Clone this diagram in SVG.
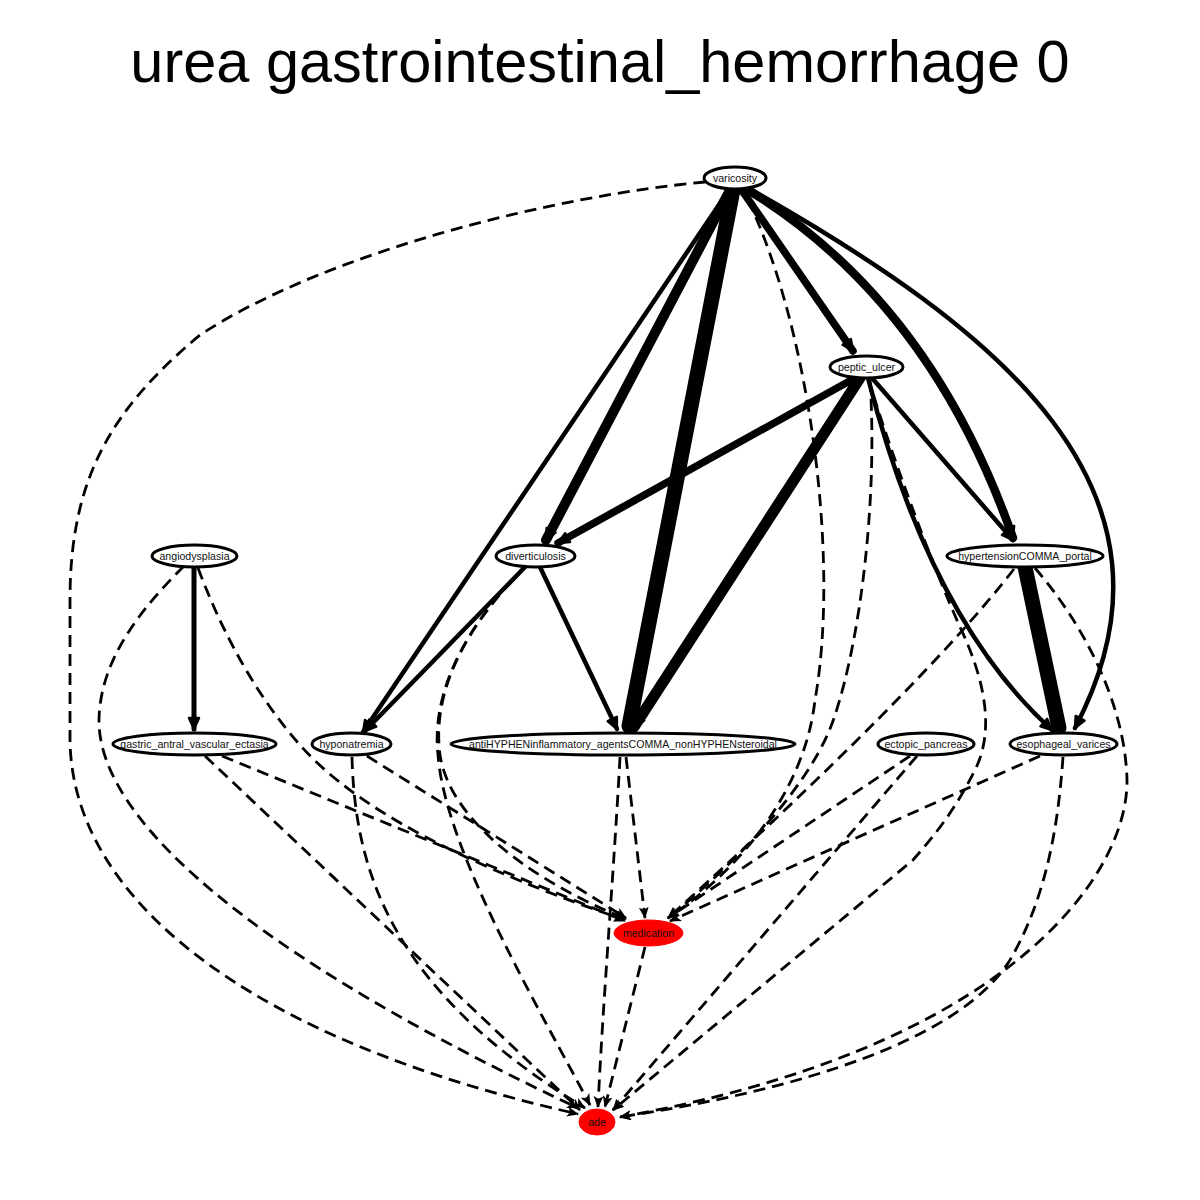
<svg xmlns="http://www.w3.org/2000/svg" width="1200" height="1200" viewBox="0 0 1200 1200">
<style>
.s{fill:none;stroke:#000;stroke-linecap:round}
.d{fill:none;stroke:#000;stroke-width:2.8;stroke-dasharray:12 7}
.n{fill:#fff;stroke:#000;stroke-width:3}
.r{fill:#f00;stroke:#f00;stroke-width:1}
text{font-family:"Liberation Sans",Arial,sans-serif;font-size:10.6px;text-anchor:middle;fill:#111}
.t{font-size:59.5px;fill:#000}
</style>
<defs>
<marker id="ms" markerUnits="userSpaceOnUse" viewBox="-2 -2 16 14" refX="11" refY="5" markerWidth="16" markerHeight="14" orient="auto"><path d="M0,0 L11,5 L0,10 z" fill="#000" stroke="#000" stroke-width="2.5" stroke-linejoin="round"/></marker>
<marker id="md" markerUnits="userSpaceOnUse" viewBox="0 0 12 10" refX="11" refY="5" markerWidth="12" markerHeight="10" orient="auto"><path d="M0,0 L12,5 L0,10 L3,5 z" fill="#000"/></marker>
</defs>
<rect width="1200" height="1200" fill="#fff"/>
<text class="t" x="600" y="82">urea gastrointestinal_hemorrhage 0</text>
<g id="edges">
<g marker-end="url(#ms)">
<path class="s" stroke-width="4.5" d="M729,190 L363,732"/>
<path class="s" stroke-width="10" d="M730,190 L546,540"/>
<path class="s" stroke-width="15" d="M733,190 L629,726"/>
<path class="s" stroke-width="7.5" d="M741,189 L853,351"/>
<path class="s" stroke-width="8.5" d="M745,188 Q930,300 1013,538"/>
<path class="s" stroke-width="4.5" d="M748,188 C1000,330 1200,490 1075,728"/>
<path class="s" stroke-width="7.5" d="M855,378 L558,543"/>
<path class="s" stroke-width="11" d="M860,378 L634,727"/>
<path class="s" stroke-width="4.5" d="M872,378 L1013,540"/>
<path class="s" stroke-width="4.5" d="M868,378 Q930,620 1052,730"/>
<path class="s" stroke-width="4.5" d="M525,567 L365,731"/>
<path class="s" stroke-width="4.5" d="M540,567 L617,729"/>
<path class="s" stroke-width="5" d="M194,567 L194,729"/>
<path class="s" stroke-width="15" d="M1025,567 L1059,728"/>
</g>
<g marker-end="url(#md)">
<path class="d" d="M198,568 C225,640 260,700 300,745 S420,850 625,920"/>
<path class="d" d="M222,756 L625,921"/>
<path class="d" d="M367,756 L626,918"/>
<path class="d" d="M525,567 C480,612 430,680 440,755 C450,820 530,880 626,919"/>
<path class="d" d="M626,757 L645,918"/>
<path class="d" d="M748,200 C810,330 840,560 815,700 C805,790 740,870 668,918"/>
<path class="d" d="M870,380 C878,500 860,640 835,715 C815,780 740,860 668,918"/>
<path class="d" d="M1014,569 Q920,690 668,918"/>
<path class="d" d="M910,756 L668,918"/>
<path class="d" d="M1040,756 L670,921"/>
<path class="d" d="M705,182 C560,195 330,250 200,335 C110,410 70,480 70,600 L70,740 C72,900 250,1040 578,1114"/>
<path class="d" d="M184,566 C140,610 100,660 99,720 C98,800 200,930 578,1108"/>
<path class="d" d="M205,756 L580,1110"/>
<path class="d" d="M352,757 C355,870 390,990 585,1108"/>
<path class="d" d="M525,567 C480,612 430,680 438,755 C445,850 540,1010 590,1105"/>
<path class="d" d="M620,757 C614,870 603,1000 598,1107"/>
<path class="d" d="M645,947 L605,1107"/>
<path class="d" d="M868,378 C890,450 930,560 960,627 C985,680 995,730 975,770 C955,810 935,835 913,860 L613,1110"/>
<path class="d" d="M917,756 L613,1110"/>
<path class="d" d="M1035,568 C1080,620 1125,700 1127,780 C1128,880 1000,1050 620,1117"/>
<path class="d" d="M1063,757 C1058,830 1045,900 1010,960 C960,1040 800,1090 620,1117"/>
</g>
</g>
<g id="varicosity"><ellipse class="n" cx="735" cy="178" rx="31" ry="11"/><text x="735" y="181.5">varicosity</text></g>
<g id="peptic_ulcer"><ellipse class="n" cx="866.5" cy="367" rx="36.5" ry="11"/><text x="866.5" y="370.5">peptic_ulcer</text></g>
<g id="angiodysplasia"><ellipse class="n" cx="194.5" cy="556" rx="42.5" ry="11"/><text x="194.5" y="559.5">angiodysplasia</text></g>
<g id="diverticulosis"><ellipse class="n" cx="535.5" cy="556" rx="39.5" ry="11"/><text x="535.5" y="559.5">diverticulosis</text></g>
<g id="hypertensionCOMMA_portal"><ellipse class="n" cx="1025" cy="556" rx="78" ry="11"/><text x="1025" y="559.5">hypertensionCOMMA_portal</text></g>
<g id="gastric_antral_vascular_ectasia"><ellipse class="n" cx="194.5" cy="744" rx="81.5" ry="11"/><text x="194.5" y="747.5">gastric_antral_vascular_ectasia</text></g>
<g id="hyponatremia"><ellipse class="n" cx="351.5" cy="744" rx="39.5" ry="11"/><text x="351.5" y="747.5">hyponatremia</text></g>
<g id="antiHYPHENinflammatory_agentsCOMMA_nonHYPHENsteroidal"><ellipse class="n" cx="623" cy="744" rx="172" ry="11"/><text x="623" y="747.5">antiHYPHENinflammatory_agentsCOMMA_nonHYPHENsteroidal</text></g>
<g id="ectopic_pancreas"><ellipse class="n" cx="926" cy="744" rx="48" ry="11"/><text x="926" y="747.5">ectopic_pancreas</text></g>
<g id="esophageal_varices"><ellipse class="n" cx="1063.5" cy="744" rx="53.5" ry="11"/><text x="1063.5" y="747.5">esophageal_varices</text></g>
<g id="medication"><ellipse class="r" cx="648.5" cy="933" rx="34.5" ry="13"/><text x="648.5" y="936.5">medication</text></g>
<g id="ade"><ellipse class="r" cx="597" cy="1122" rx="18" ry="13"/><text x="597" y="1125.5">ade</text></g>
</svg>
